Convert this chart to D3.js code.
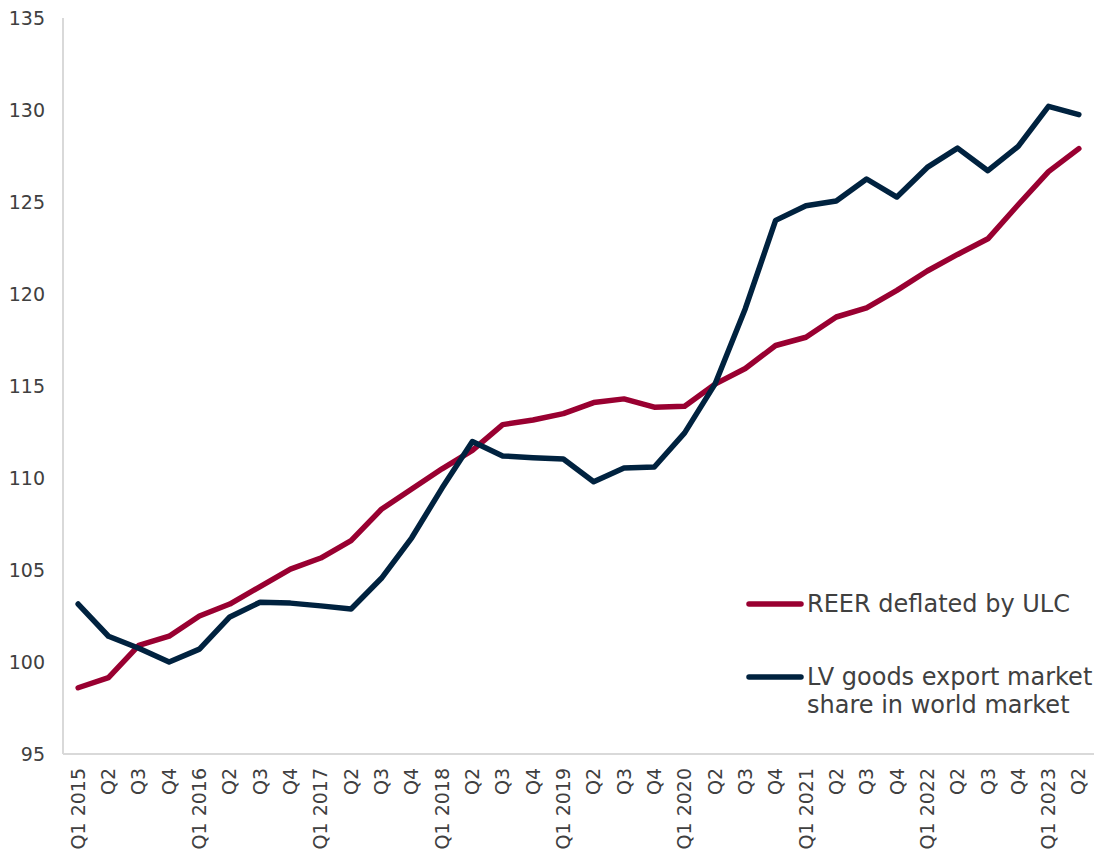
<!DOCTYPE html>
<html>
<head>
<meta charset="utf-8">
<script src="https://cdn.jsdelivr.net/npm/d3@7"></script>
<style>
  body { margin: 0; background: #fff; }
  svg { display: block; font-family: "DejaVu Sans", Verdana, sans-serif; }
</style>
</head>
<body>
<svg id="chart" width="1102" height="849"></svg>
<script>
// quarters Q1 2015 .. Q2 2023
var quarters = [
    "Q1 2015", "Q2", "Q3", "Q4",
    "Q1 2016", "Q2", "Q3", "Q4",
    "Q1 2017", "Q2", "Q3", "Q4",
    "Q1 2018", "Q2", "Q3", "Q4",
    "Q1 2019", "Q2", "Q3", "Q4",
    "Q1 2020", "Q2", "Q3", "Q4",
    "Q1 2021", "Q2", "Q3", "Q4",
    "Q1 2022", "Q2", "Q3", "Q4",
    "Q1 2023", "Q2"
];

var reer = [
    98.6, 99.15, 100.9, 101.4,
    102.5, 103.15, 104.1, 105.05,
    105.65, 106.6, 108.3, 109.4,
    110.5, 111.5, 112.9, 113.15,
    113.5, 114.1, 114.3, 113.85,
    113.9, 115.1, 115.95, 117.2,
    117.65, 118.75, 119.25, 120.2,
    121.25, 122.15, 123.0, 124.85,
    126.65, 127.9
];

var exportShare = [
    103.15, 101.4, 100.75, 100.0,
    100.7, 102.45, 103.25, 103.2,
    103.05, 102.88, 104.55, 106.75,
    109.45, 111.98, 111.2, 111.1,
    111.03, 109.8, 110.55, 110.6,
    112.45, 115.1, 119.2, 124.0,
    124.8, 125.05, 126.25, 125.27,
    126.88, 127.93, 126.7, 128.02,
    130.2, 129.75
];

var yTicks = [95, 100, 105, 110, 115, 120, 125, 130, 135];

var seriesNames = ["REER deflated by ULC", "LV goods export market share in world market"];
var seriesColors = ["#990031", "#00223f"];

var svg = d3.select("#chart");
var idx = d3.range(quarters.length);

var x = d3.scaleBand()
    .domain(idx)
    .range([63, 1094])
    .padding(0);

var y = d3.scaleLinear()
    .domain([95, 135])
    .range([754, 18]);

var xc = function (i) { return x(i) + x.bandwidth() / 2; };

// y tick labels
svg.append("g")
    .selectAll("text")
    .data(yTicks)
    .enter()
    .append("text")
    .attr("x", 45)
    .attr("y", function (d) { return y(d); })
    .attr("dy", "0.35em")
    .attr("text-anchor", "end")
    .attr("font-size", 19)
    .attr("fill", "#404040")
    .text(function (d) { return d; });

// axis lines
svg.append("line")
    .attr("x1", 63).attr("x2", 63)
    .attr("y1", y(135)).attr("y2", y(95))
    .attr("stroke", "#d9d9d9")
    .attr("stroke-width", 2);

svg.append("line")
    .attr("x1", 63).attr("x2", 1094)
    .attr("y1", y(95)).attr("y2", y(95))
    .attr("stroke", "#d9d9d9")
    .attr("stroke-width", 2);

// x tick labels, rotated
svg.append("g")
    .selectAll("text")
    .data(quarters)
    .enter()
    .append("text")
    .attr("transform", function (d, i) {
        return "translate(" + xc(i) + ",768) rotate(-90)";
    })
    .attr("dy", "0.35em")
    .attr("text-anchor", "end")
    .attr("font-size", 19)
    .attr("fill", "#404040")
    .text(function (d) { return d; });

var line = d3.line()
    .x(function (d, i) { return xc(i); })
    .y(function (d) { return y(d); });

[reer, exportShare].forEach(function (s, k) {
    svg.append("path")
        .datum(s)
        .attr("d", line)
        .attr("fill", "none")
        .attr("stroke", seriesColors[k])
        .attr("stroke-width", 5.5)
        .attr("stroke-linejoin", "round")
        .attr("stroke-linecap", "round");
});

// legend
var legendY = [604, 677];
var legendLines = [["REER deflated by ULC"], ["LV goods export market", "share in world market"]];

legendY.forEach(function (ly, k) {
    svg.append("line")
        .attr("x1", 749).attr("x2", 801)
        .attr("y1", ly).attr("y2", ly)
        .attr("stroke", seriesColors[k])
        .attr("stroke-width", 5.5)
        .attr("stroke-linecap", "round");

    var t = svg.append("text")
        .attr("x", 807)
        .attr("y", ly + 8)
        .attr("font-size", 24)
        .attr("fill", "#404040");
    legendLines[k].forEach(function (s, j) {
        t.append("tspan")
            .attr("x", 807)
            .attr("dy", j === 0 ? 0 : 28)
            .text(s);
    });
});
</script>
</body>
</html>
